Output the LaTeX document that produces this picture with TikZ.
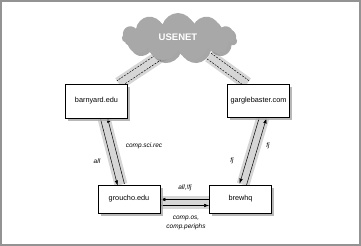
\documentclass[tikz,border=0pt]{standalone}
\usepackage{fontspec}
\setmainfont{Liberation Sans}
\usetikzlibrary{arrows.meta,calc,shapes.symbols,shadows,backgrounds}

\begin{document}
\begin{tikzpicture}[
    x=1pt, y=-1pt,
    font=\fontsize{7.3}{8}\selectfont,
    host/.style={draw, line width=0.7pt, fill=white, minimum width=62pt, minimum height=34pt,
                 inner sep=0pt, align=center,
                 drop shadow={shadow xshift=2.5pt, shadow yshift=-2.5pt, fill=gray!70, opacity=0.8}},
    net/.style={cloud, cloud puffs=11, aspect=2.3, minimum width=112pt, minimum height=48pt,
                fill=gray!68, text=white, font=\fontsize{9.5}{10}\selectfont\bfseries,
                drop shadow={shadow xshift=3pt, shadow yshift=-3pt, fill=gray!100, opacity=0.7}},
    band/.style={line width=13pt, gray!32},
    feed/.style={line width=0.5pt, -{Latex[length=5pt,width=3.5pt]}},
    uplink/.style={line width=0.45pt, dashed, dash pattern=on 2pt off 1.2pt},
    tag/.style={font=\fontsize{6.5}{8.7}\selectfont\itshape, inner sep=1pt, align=center},
    frame/.style={draw=gray!85, line width=2pt},
]
\useasboundingbox (0,0) rectangle (361,246);
\draw[frame] (1,1) rectangle (360,245);

% =====================  HOSTS  =====================
\node[net]                          (usenet)   at (178,37)    {USENET};
\node[host]                         (barnyard) at (96.5,101)  {barnyard.edu};
\node[host, minimum height=33pt]    (gargle)   at (258.5,100.5) {garglebaster.com};
\node[host, minimum height=28pt]    (groucho)  at (129,199)   {groucho.edu};
\node[host, minimum height=28pt]    (brewhq)   at (240.5,199) {brewhq};

% =====================  LINKS  =====================
\begin{scope}[on background layer]
  % usenet -- barnyard.edu
  \coordinate (ub-top) at ($(usenet.center)+(-13,16)$);
  \coordinate (ub-bot) at ($(barnyard.north east)+(-9,0)$);
  \draw[band]   (ub-top) -- (ub-bot);
  \draw[uplink] ($(ub-top)!3.5pt!90:(ub-bot)$)  -- ($(ub-bot)!3.5pt!-90:(ub-top)$);
  \draw[uplink] ($(ub-top)!3.5pt!-90:(ub-bot)$) -- ($(ub-bot)!3.5pt!90:(ub-top)$);

  % usenet -- garglebaster.com
  \coordinate (ug-top) at ($(usenet.center)+(31,19)$);
  \coordinate (ug-bot) at ($(gargle.north west)+(20,0)$);
  \draw[band]   (ug-top) -- (ug-bot);
  \draw[uplink] ($(ug-top)!3.5pt!90:(ug-bot)$)  -- ($(ug-bot)!3.5pt!-90:(ug-top)$);
  \draw[uplink] ($(ug-top)!3.5pt!-90:(ug-bot)$) -- ($(ug-bot)!3.5pt!90:(ug-top)$);

  % barnyard.edu -- groucho.edu
  \coordinate (bg-top) at ($(barnyard.south)+(7.5,0)$);
  \coordinate (bg-bot) at ($(groucho.north)+(-8,0)$);
  \draw[band] (bg-top) -- (bg-bot);
  \draw[feed] ($(bg-top)!3.5pt!-90:(bg-bot)$) -- ($(bg-bot)!3.5pt!90:(bg-top)$);
  \draw[feed] ($(bg-bot)!3.5pt!-90:(bg-top)$) -- ($(bg-top)!3.5pt!90:(bg-bot)$);

  % garglebaster.com -- brewhq
  \coordinate (gb-top) at ($(gargle.south)+(4.5,0)$);
  \coordinate (gb-bot) at ($(brewhq.north)+(2.5,0)$);
  \draw[band] (gb-top) -- (gb-bot);
  \draw[feed] ($(gb-top)!3.5pt!-90:(gb-bot)$) -- ($(gb-bot)!3.5pt!90:(gb-top)$);
  \draw[feed] ($(gb-bot)!3.5pt!-90:(gb-top)$) -- ($(gb-top)!3.5pt!90:(gb-bot)$);

  % groucho.edu -- brewhq
  \coordinate (gw-end) at ($(groucho.east)+(0,3.5)$);
  \coordinate (bw-end) at ($(brewhq.west)+(0,3.5)$);
  \draw[band] (gw-end) -- (bw-end);
  \draw[feed] ($(bw-end)!3pt!-90:(gw-end)$) -- ($(gw-end)!3pt!90:(bw-end)$);
  \draw[feed] ($(gw-end)!3pt!-90:(bw-end)$) -- ($(bw-end)!3pt!90:(gw-end)$);
\end{scope}

% =====================  NEWSGROUPS  =====================
\node[tag] (tag-all)    at (97,161)  {all};
\node[tag] (tag-sci)    at (144,146) {comp.sci.rec};
\node[tag] (tag-fjdown) at (232,161) {fj};
\node[tag] (tag-fjup)   at (268,146) {fj};
\node[tag] (tag-notfj)  at (185,188) {all,!fj};
\node[tag] (tag-os)     at (186,223) {comp.os,\\comp.periphs};

\end{tikzpicture}
\end{document}
